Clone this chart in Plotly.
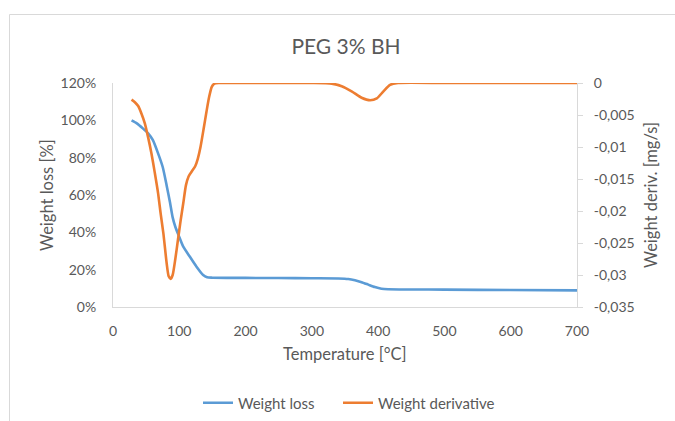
import plotly.graph_objects as go

# ---- data ----
temp_w = [28, 36, 45, 53, 60, 68, 75, 81, 86, 90, 94, 100, 106, 116, 126, 136, 142, 150,
          200, 250, 300, 340, 355, 365, 375, 385, 395, 405, 415, 450, 500, 600, 700]
weight_loss = [1.000, 0.984, 0.957, 0.930, 0.895, 0.823, 0.750, 0.650, 0.560, 0.480, 0.430,
               0.375, 0.323, 0.269, 0.216, 0.171, 0.159, 0.157,
               0.156, 0.155, 0.154, 0.153, 0.150, 0.143, 0.133, 0.120, 0.107, 0.098, 0.095,
               0.094, 0.093, 0.091, 0.089]

temp_d = [28, 33, 38, 43, 48, 53, 58, 63, 68, 72, 76, 81, 84, 87, 90, 94, 98, 102, 106, 110,
          114, 119, 124, 128, 132, 137, 141, 145, 149, 153, 160, 200, 250, 300, 330, 345,
          360, 375, 388, 398, 408, 418, 430, 500, 600, 700]
weight_deriv = [-0.0026, -0.0030, -0.0036, -0.0048, -0.0063, -0.0085, -0.0110, -0.0140,
                -0.0172, -0.0205, -0.0235, -0.0282, -0.0302, -0.0306, -0.0300, -0.0275,
                -0.0245, -0.0215, -0.0188, -0.0160, -0.0146, -0.0138, -0.0130, -0.0118,
                -0.0100, -0.0070, -0.0045, -0.0022, -0.0006, -0.0001, 0.0, 0.0, 0.0, 0.0,
                -0.0001, -0.0005, -0.0013, -0.0023, -0.0027, -0.0024, -0.0013, -0.0003,
                0.0, 0.0, 0.0, 0.0]

x_ticks = [0, 100, 200, 300, 400, 500, 600, 700]
left_ticks = [0, 0.2, 0.4, 0.6, 0.8, 1.0, 1.2]
left_labels = ["0%", "20%", "40%", "60%", "80%", "100%", "120%"]
right_ticks = [0, -0.005, -0.01, -0.015, -0.02, -0.025, -0.03, -0.035]
right_labels = ["0", "-0,005", "-0,01", "-0,015", "-0,02", "-0,025", "-0,03", "-0,035"]

BLUE = "#5B9BD5"
ORANGE = "#ED7D31"
TXT = "#595959"
GRID = "#D9D9D9"
FONT = "Lato"

fig = go.Figure()
fig.add_trace(go.Scatter(x=temp_w, y=weight_loss, name="Weight loss", mode="lines",
                         legend="legend",
                         line=dict(color=BLUE, width=2.6, shape="spline", smoothing=0.6)))
fig.add_trace(go.Scatter(x=temp_d, y=weight_deriv, name="Weight derivative", mode="lines",
                         yaxis="y2", legend="legend2",
                         line=dict(color=ORANGE, width=2.6, shape="spline", smoothing=0.6)))

L, R, T, B = 113, 98, 83, 114
W, H = 675, 421
pw, ph = W - L - R, H - T - B

def px_x(px):
    return (px - L) / pw

def px_y(py):
    return (H - B - py) / ph

leg_common = dict(orientation="h", xref="container", yref="container", xanchor="left",
                  y=1 - 403 / H, yanchor="middle",
                  font=dict(size=15, color=TXT, family=FONT), itemwidth=30,
                  bgcolor="rgba(0,0,0,0)")

fig.update_layout(
    width=W, height=H,
    margin=dict(l=L, r=R, t=T, b=B, pad=0, autoexpand=False),
    paper_bgcolor="white", plot_bgcolor="white",
    font=dict(family=FONT, color=TXT, size=14),
    title=dict(text="PEG 3% BH", x=346 / W, xanchor="center", y=1 - 47 / H, yanchor="middle",
               xref="container", yref="container", font=dict(size=21, color=TXT, family=FONT)),
    xaxis=dict(range=[0, 700], tickvals=x_ticks, showgrid=False, zeroline=False,
               showline=True, linecolor=GRID, linewidth=1, ticks="",
               tickfont=dict(size=14, color=TXT), ticklabelstandoff=11),
    yaxis=dict(range=[0, 1.2], tickvals=left_ticks, ticktext=left_labels, showgrid=False,
               zeroline=False, showline=True, linecolor=GRID, linewidth=1, ticks="",
               tickfont=dict(size=14, color=TXT), ticklabelstandoff=13),
    yaxis2=dict(range=[-0.035, 0], tickvals=right_ticks, ticktext=right_labels,
                overlaying="y", side="right", showgrid=False, zeroline=False,
                showline=True, linecolor=GRID, linewidth=1, ticks="outside", ticklen=5,
                tickcolor=GRID, tickfont=dict(size=14, color=TXT), ticklabelstandoff=8),
    showlegend=True,
    legend=dict(leg_common, x=198 / W),
    legend2=dict(leg_common, x=338 / W),
    annotations=[
        dict(text="Temperature [°C]", x=px_x(345), y=px_y(354), xref="paper", yref="paper",
             showarrow=False, font=dict(size=16.5, color=TXT, family=FONT),
             xanchor="center", yanchor="middle"),
        dict(text="Weight loss [%]", x=px_x(47), y=px_y(195), xref="paper", yref="paper",
             showarrow=False, textangle=-90, font=dict(size=16.5, color=TXT, family=FONT),
             xanchor="center", yanchor="middle"),
        dict(text="Weight deriv. [mg/s]", x=px_x(651), y=px_y(195), xref="paper", yref="paper",
             showarrow=False, textangle=-90, font=dict(size=16.5, color=TXT, family=FONT),
             xanchor="center", yanchor="middle"),
    ],
    shapes=[
        dict(type="line", xref="paper", yref="paper", x0=px_x(9.5), x1=px_x(9.5),
             y0=px_y(430), y1=px_y(14.5), line=dict(color=GRID, width=1)),
        dict(type="line", xref="paper", yref="paper", x0=px_x(9.5), x1=px_x(690),
             y0=px_y(14.5), y1=px_y(14.5), line=dict(color=GRID, width=1)),
    ],
)

fig.write_html("out.html")
